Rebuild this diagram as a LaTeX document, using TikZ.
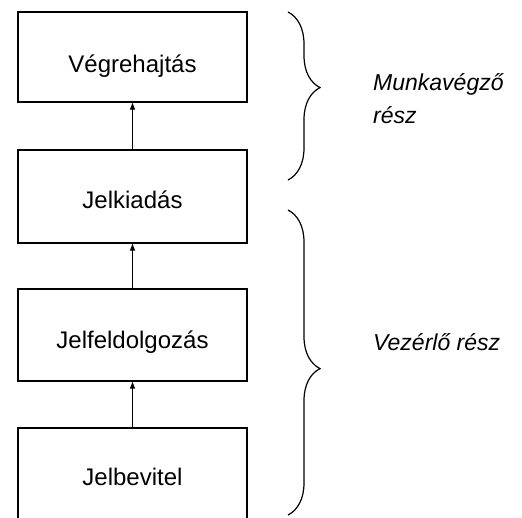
\documentclass[tikz,border=0pt]{standalone}
\usepackage{fontspec}
\setmainfont{Liberation Sans}
\usetikzlibrary{arrows.meta,decorations.pathreplacing}
\begin{document}
\begin{tikzpicture}[x=1pt,y=-1pt,
  box/.style={draw, line width=1.4pt, minimum width=229pt, inner sep=0pt},
  lbl/.style={anchor=base, inner sep=0pt, font=\fontsize{24}{28}\selectfont},
  side/.style={anchor=base west, inner sep=0pt, font=\fontsize{23}{28}\selectfont\itshape},
  conn/.style={line width=1.2pt, -{Triangle[length=7pt,width=5pt]}},
  brc/.style={line width=1.2pt, decorate, decoration={brace, amplitude=32pt}}]
\useasboundingbox (0,0) rectangle (522,517);
% boxes
\node[box, minimum height=90pt] (v) at (132.5,57) {};
\node[box, minimum height=93pt] (k) at (132.5,196.5) {};
\node[box, minimum height=92pt] (f) at (132.5,335) {};
\node[box, minimum height=91pt] (b) at (132.5,473.5) {};
% texts
\node[lbl] (vt) at (132.5,72) {Végrehajtás};
\node[lbl] (kt) at (132.5,208) {Jelkiadás};
\node[lbl] (ft) at (132.5,348) {Jelfeldolgozás};
\node[lbl] (bt) at (132.5,485) {Jelbevitel};
% arrows
\draw[conn] (k.north) -- (v.south);
\draw[conn] (f.north) -- (k.south);
\draw[conn] (b.north) -- (f.south);
% braces
\coordinate (b1s) at (288,12);
\coordinate (b1e) at (288,180);
\coordinate (b2s) at (288,210);
\coordinate (b2e) at (288,515);
\draw[brc, decoration={aspect=0.45}] (b1s) -- (b1e);
\draw[brc, decoration={aspect=0.52}] (b2s) -- (b2e);
% side labels
\node[side] (m1) at (373,90) {Munkavégző};
\node[side] (m2) at (373,123) {rész};
\node[side] (vz) at (373,350) {Vezérlő rész};
\end{tikzpicture}
\end{document}
